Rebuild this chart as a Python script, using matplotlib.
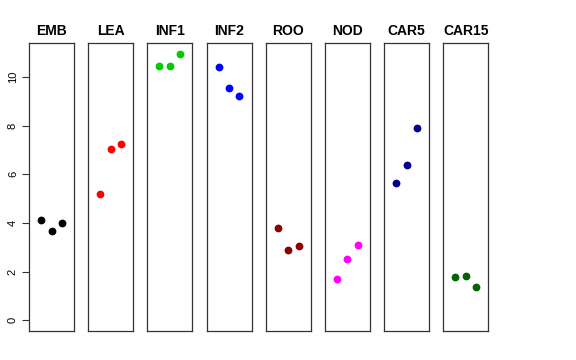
import numpy as np
import matplotlib.pyplot as plt

plt.rcParams['font.family'] = ['Liberation Sans', 'DejaVu Sans']

tissues = ['EMB', 'LEA', 'INF1', 'INF2', 'ROO', 'NOD', 'CAR5', 'CAR15']
colors = ['black', 'red', '#00cd00', 'blue', '#8b0000', 'magenta', '#00008b', '#006400']
reps = [1, 2, 3]

emb = [4.13, 3.67, 4.01]
lea = [5.17, 7.02, 7.24]
inf1 = [10.44, 10.44, 10.95]
inf2 = [10.40, 9.54, 9.21]
roo = [3.78, 2.89, 3.06]
nod = [1.68, 2.52, 3.10]
car5 = [5.65, 6.37, 7.88]
car15 = [1.79, 1.82, 1.36]
values = [emb, lea, inf1, inf2, roo, nod, car5, car15]

W, H = 576, 360
fig = plt.figure(figsize=(W / 100, H / 100), dpi=100)

ymax = max(max(v) for v in values)
pad = 0.04 * ymax

for i, (name, col, vals) in enumerate(zip(tissues, colors, values)):
    left = 29 + i * 59.17
    ax = fig.add_axes([left / W, 29 / H, 45 / W, 288 / H])
    ax.plot(reps, vals, 'o', color=col, markersize=4.6)
    ax.set_xlim(-0.16, 4.16)
    ax.set_ylim(-pad, ymax + pad)
    ax.set_xticks([])
    ax.set_title(name, fontsize=10, fontweight='bold', pad=6)
    for s in ax.spines.values():
        s.set_linewidth(0.9)
        s.set_color('#333333')
    if i == 0:
        ax.set_yticks([0, 2, 4, 6, 8, 10])
        ax.tick_params(axis='y', labelsize=8, length=5, pad=3, color='#333333')
        for lab in ax.get_yticklabels():
            lab.set_rotation(90)
            lab.set_va('center')
    else:
        ax.set_yticks([])

fig.savefig('out.png', dpi=100)
